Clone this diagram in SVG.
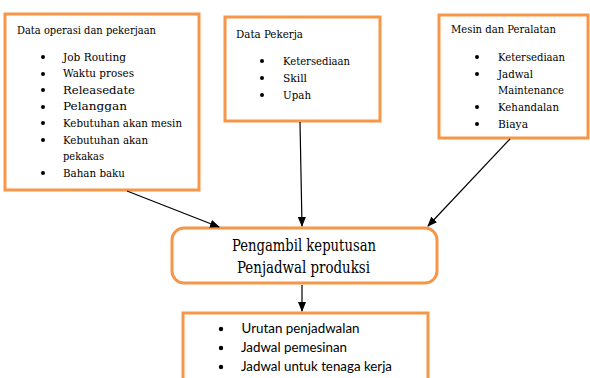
<svg xmlns="http://www.w3.org/2000/svg" width="590" height="378" viewBox="0 0 590 378">
<style>
.box{fill:#fff;stroke:#F79646;stroke-width:3}
.t{font-family:'DejaVu Serif Condensed','DejaVu Serif',serif;font-size:11.5px;fill:#000}
.c{font-family:'DejaVu Serif Condensed','DejaVu Serif',serif;font-size:16px;fill:#000}
.s{font-family:Lato,'Liberation Sans',sans-serif;font-size:13.5px;fill:#000}
.b{fill:#000}
.edge{stroke:#000;stroke-width:1.2;fill:none;marker-end:url(#arr)}
</style>
<defs>
<marker id="arr" markerWidth="10" markerHeight="8" refX="9" refY="4" orient="auto" markerUnits="userSpaceOnUse">
<path d="M0,0 L10,4 L0,8 Z" fill="#000"/>
</marker>
</defs>
<rect width="590" height="378" fill="#fff"/>
<g id="node-operasi">
<rect class="box" x="5" y="14" width="194" height="176"/>
<text class="t" x="17" y="34" textLength="139" lengthAdjust="spacingAndGlyphs">Data operasi dan pekerjaan</text>
<g class="b"><circle cx="43" cy="57" r="2"/><circle cx="43" cy="74" r="2"/><circle cx="43" cy="90" r="2"/><circle cx="43" cy="107" r="2"/><circle cx="43" cy="123" r="2"/><circle cx="43" cy="140" r="2"/><circle cx="43" cy="173" r="2"/></g>
<text class="t" x="63" y="61" textLength="63" lengthAdjust="spacingAndGlyphs">Job Routing</text>
<text class="t" x="63" y="77" textLength="71" lengthAdjust="spacingAndGlyphs">Waktu proses</text>
<text class="t" x="63" y="94" textLength="72" lengthAdjust="spacingAndGlyphs">Releasedate</text>
<text class="t" x="63" y="110" textLength="64" lengthAdjust="spacingAndGlyphs">Pelanggan</text>
<text class="t" x="63" y="127" textLength="119" lengthAdjust="spacingAndGlyphs">Kebutuhan akan mesin</text>
<text class="t" x="63" y="144" textLength="85" lengthAdjust="spacingAndGlyphs">Kebutuhan akan</text>
<text class="t" x="63" y="160" textLength="41" lengthAdjust="spacingAndGlyphs">pekakas</text>
<text class="t" x="63" y="177" textLength="62" lengthAdjust="spacingAndGlyphs">Bahan baku</text>
</g>
<g id="node-pekerja">
<rect class="box" x="225" y="17" width="155" height="104"/>
<text class="t" x="236" y="38" textLength="67" lengthAdjust="spacingAndGlyphs">Data Pekerja</text>
<g class="b"><circle cx="262" cy="61" r="2"/><circle cx="262" cy="78" r="2"/><circle cx="262" cy="95" r="2"/></g>
<text class="t" x="283" y="65" textLength="67" lengthAdjust="spacingAndGlyphs">Ketersediaan</text>
<text class="t" x="283" y="82" textLength="24" lengthAdjust="spacingAndGlyphs">Skill</text>
<text class="t" x="283" y="99" textLength="28" lengthAdjust="spacingAndGlyphs">Upah</text>
</g>
<g id="node-mesin">
<rect class="box" x="439" y="15" width="149" height="123"/>
<text class="t" x="451" y="33" textLength="105" lengthAdjust="spacingAndGlyphs">Mesin dan Peralatan</text>
<g class="b"><circle cx="477" cy="57" r="2"/><circle cx="477" cy="74" r="2"/><circle cx="477" cy="107" r="2"/><circle cx="477" cy="124" r="2"/></g>
<text class="t" x="498" y="61" textLength="67" lengthAdjust="spacingAndGlyphs">Ketersediaan</text>
<text class="t" x="498" y="78" textLength="35" lengthAdjust="spacingAndGlyphs">Jadwal</text>
<text class="t" x="498" y="94" textLength="66" lengthAdjust="spacingAndGlyphs">Maintenance</text>
<text class="t" x="498" y="111" textLength="61" lengthAdjust="spacingAndGlyphs">Kehandalan</text>
<text class="t" x="498" y="128" textLength="30" lengthAdjust="spacingAndGlyphs">Biaya</text>
</g>
<g id="node-pengambil">
<rect class="box" x="172" y="228" width="265" height="55" rx="12"/>
<text class="c" x="232" y="251" textLength="144" lengthAdjust="spacingAndGlyphs">Pengambil keputusan</text>
<text class="c" x="237" y="273" textLength="133" lengthAdjust="spacingAndGlyphs">Penjadwal produksi</text>
</g>
<g id="node-output">
<rect class="box" x="183" y="313" width="245" height="80"/>
<g class="b"><circle cx="221" cy="329" r="2.2"/><circle cx="221" cy="348" r="2.2"/><circle cx="221" cy="367" r="2.2"/></g>
<text class="s" x="241.5" y="333" textLength="118" lengthAdjust="spacingAndGlyphs">Urutan penjadwalan</text>
<text class="s" x="241" y="352" textLength="106" lengthAdjust="spacingAndGlyphs">Jadwal pemesinan</text>
<text class="s" x="241" y="371" textLength="151" lengthAdjust="spacingAndGlyphs">Jadwal untuk tenaga kerja</text>
</g>
<g id="connectors">
<line class="edge" x1="127" y1="191" x2="219" y2="227"/>
<line class="edge" x1="300" y1="122" x2="302" y2="226"/>
<line class="edge" x1="510" y1="139" x2="428" y2="226"/>
<line class="edge" x1="302" y1="285" x2="302" y2="311"/>
</g>
</svg>
